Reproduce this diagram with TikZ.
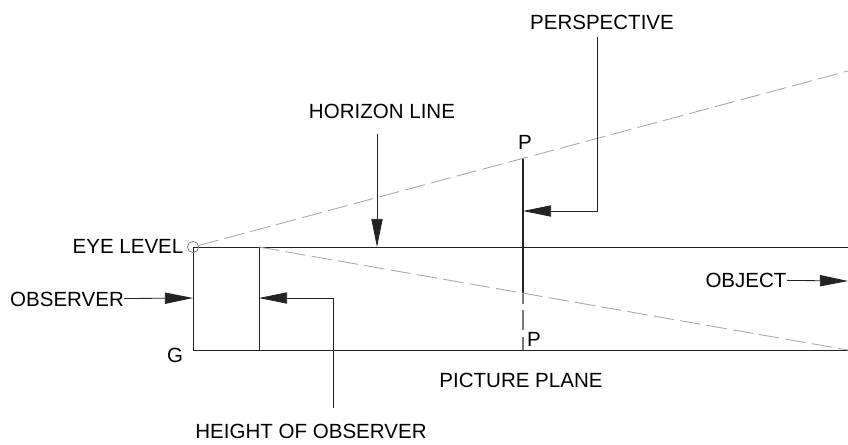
\documentclass[tikz,border=0pt]{standalone}
\usepackage{fontspec}
\setmainfont{Liberation Sans}
\usetikzlibrary{arrows.meta, positioning, calc}
\definecolor{lineBlack}{RGB}{35, 35, 35}
\definecolor{lineGrey}{RGB}{120, 120, 120}
\definecolor{rayGrey}{RGB}{165, 165, 165}

\begin{document}
\begin{tikzpicture}[
    x=0.025cm, y=-0.025cm,
    lbl/.style={inner sep=0pt, text=black, font=\fontsize{14.6}{16}\selectfont},
    solid line/.style={lineBlack, line width=0.7pt},
    ray/.style={rayGrey, line width=0.6pt, dash pattern=on 14.5pt off 4.5pt},
    arr/.style={-{Triangle[length=20pt, width=8pt]}, lineBlack, line width=0.6pt},
    pt/.style={coordinate}
  ]
    \useasboundingbox (0,0) rectangle (848,445);

    % frame points
    \node[pt] (eye) at (193,247) {};
    \node[pt] (ground) at (193,350) {};
    \node[pt] (obsTop) at (259,247) {};
    \node[pt] (obsFoot) at (259,350) {};
    \node[pt] (obsMid) at (259,298) {};
    \node[pt] (eyeMid) at (193,298) {};
    \node[pt] (horEnd) at (848,247) {};
    \node[pt] (grdEnd) at (848,350) {};
    \node[pt] (rayUp) at (848,71) {};
    \node[pt] (planeTop) at (523,158) {};
    \node[pt] (planeMid) at (523,293) {};
    \node[pt] (planeFoot) at (523,350) {};
    \node[pt] (planeArr) at (523,211) {};
    \node[pt] (horArr) at (377,247) {};
    \node[pt] (objEnd) at (848,281) {};
    % free ends of the leaders
    \node[pt] (perspStart) at (597,37) {};
    \node[pt] (horStart) at (377,134) {};
    \node[pt] (heightStart) at (333,408) {};

    % labels
    \node[lbl] (persp) at (602,22) {PERSPECTIVE};
    \node[lbl] (horizon) at (382,111) {HORIZON LINE};
    \node[lbl] (level) at (128,246) {EYE LEVEL};
    \node[lbl] (observer) at (67,299) {OBSERVER};
    \node[lbl] (object) at (746,280) {OBJECT};
    \node[lbl] (height) at (311,431) {HEIGHT OF OBSERVER};
    \node[lbl] (plane) at (521,380) {PICTURE PLANE};
    \node[lbl] (gnd) at (175,355) {G};
    \node[lbl] (pTop) at (525,142) {P};
    \node[lbl] (pLow) at (534,339) {P};

    % observer box, horizon, ground
    \draw[solid line] (ground) -- (eye) -- (horEnd);
    \draw[solid line] (ground) -- (grdEnd);
    \draw[solid line] (obsTop) -- (obsFoot);
    \node[circle, draw=lineGrey, line width=0.5pt, minimum size=8pt, inner sep=0pt] (eyeDot) at (eye) {};

    % picture plane
    \draw[lineBlack, line width=1.3pt] (planeTop) -- (planeMid);
    \draw[lineGrey, line width=0.8pt, dash pattern=on 14.5pt off 4.5pt, dash phase=6.9pt] (planeMid) -- (planeFoot);

    % sight lines
    \draw[ray] (eyeDot) -- (rayUp);
    \draw[ray] (obsTop) -- (grdEnd);

    % leaders
    \draw[arr] (perspStart) |- (planeArr);
    \draw[arr] (horStart) -- (horArr);
    \draw[arr] (observer) -- (eyeMid);
    \draw[arr] (object) -- (objEnd);
    \draw[arr] (heightStart) |- (obsMid);
  \end{tikzpicture}
\end{document}
